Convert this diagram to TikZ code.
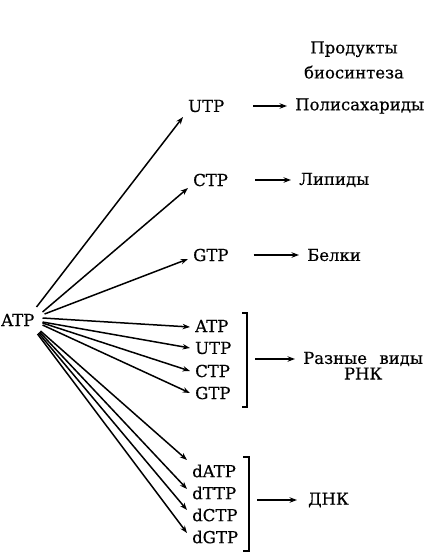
\documentclass[tikz,border=0pt]{standalone}
\usepackage{fontspec}
\setmainfont{DejaVu Serif}[FakeBold=0.5]
\usetikzlibrary{positioning,arrows.meta,calc}
\tikzset{
  nuc/.style={font=\fontsize{16.5}{19}\selectfont, inner xsep=5pt, inner ysep=2pt, anchor=west},
  prod/.style={font=\fontsize{16.5}{19}\selectfont, inner sep=2pt, anchor=west},
  fan/.style={-{Stealth[length=2.6mm, width=1.9mm]}, line width=1.5pt},
  go/.style={-{Stealth[length=2.6mm, width=1.9mm]}, line width=1.5pt, shorten >=6pt},
  brk/.style={line width=1.5pt},
}

\begin{document}
\begin{tikzpicture}[x=1pt, y=-1pt]
\useasboundingbox (0,0) rectangle (438,552);
% source
\node[nuc, inner xsep=1pt] (atp) at (0,320) {ATP};
% header
\node[font=\fontsize{16.5}{25}\selectfont, align=center] (head) at (354,60) {Продукты\\биосинтеза};
% single precursors
\node[nuc] (utp) at (183,106) {UTP};
\node[nuc] (ctp) at (188,180) {CTP};
\node[nuc] (gtp) at (188,255) {GTP};
% RNA precursors
\node[nuc] (ra) at (190,326) {ATP};
\node[nuc] (ru) at (190,348) {UTP};
\node[nuc] (rc) at (190,371) {CTP};
\node[nuc] (rg) at (190,393) {GTP};
% DNA precursors
\node[nuc] (da) at (187,471) {dATP};
\node[nuc] (dt) at (187,493) {dTTP};
\node[nuc] (dc) at (187,515) {dCTP};
\node[nuc] (dg) at (187,537) {dGTP};
% products
\node[prod] (pol) at (293,106) {Полисахариды};
\node[prod] (lip) at (297,180) {Липиды};
\node[prod] (bel) at (305,255) {Белки};
\node[prod] (rnk) at (301,359) {Разные\hspace{0.75em}виды};
\node[prod, anchor=north, below=-3pt of rnk] (rnk2) {РНК};
\node[prod] (dnk) at (306,500) {ДНК};
% fan of arrows
\foreach \t/\sx/\sy/\ey in {utp/1/-13/11, ctp/7/-8/8, gtp/9/-6/4,
    ra/7/-2/1, ru/7/2/0, rc/7/3/0, rg/7/5/0,
    da/5/11/-11, dt/4/12/-4, dc/3/13/-5, dg/2/14/-4}
  \draw[fan] ([shift={(\sx,\sy)}]atp.east) -- ([shift={(0,\ey)}]\t.west);
% brackets
\coordinate (rbt) at (247,313);
\coordinate (rbb) at (247,407);
\draw[brk] ($(rbt)+(-5,0)$) -- (rbt) -- (rbb) -- ++(-5,0);
\coordinate (dbt) at (249,457);
\coordinate (dbb) at (249,551);
\draw[brk] ($(dbt)+(-6,0)$) -- (dbt) -- (dbb) -- ++(-6,0);
% to products
\draw[go, shorten <=24pt] (utp) -- (pol);
\draw[go, shorten <=22pt] (ctp) -- (lip);
\draw[go, shorten <=20pt] (gtp) -- (bel);
\coordinate (rbm) at (255,359);
\draw[go] (rbm) -- (rnk.west);
\coordinate (dbm) at (257,500);
\draw[go, shorten >=9pt] (dbm) -- (dnk.west);
\end{tikzpicture}
\end{document}
